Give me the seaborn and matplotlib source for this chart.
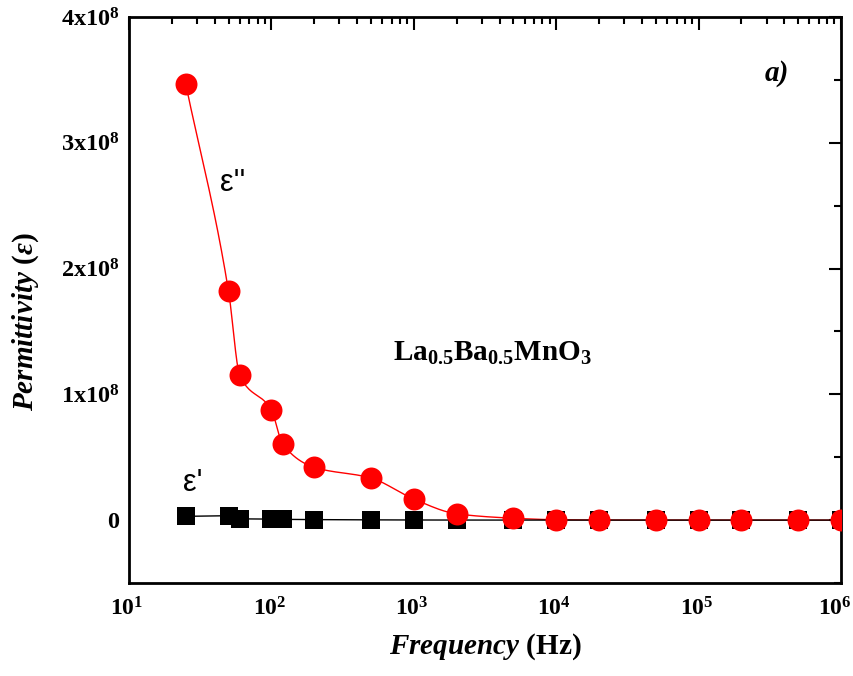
import numpy as np
import pandas as pd
import matplotlib
matplotlib.use("Agg")
import matplotlib.pyplot as plt
import matplotlib.transforms as mtrans
import seaborn as sns
from matplotlib.ticker import FixedLocator, LogLocator, NullFormatter, MultipleLocator

freq = [25, 50, 60, 100, 120, 200, 500, 1000, 2000, 5000, 1e4, 2e4, 5e4, 1e5, 2e5, 5e5, 1e6]
eps_imag = [3.47e8, 1.82e8, 1.15e8, 0.875e8, 0.605e8, 0.42e8, 0.335e8, 0.167e8, 0.05e8,
            0.015e8, 0.003e8, 0.001e8, 0.0005e8, 0.0002e8, 0.0001e8, 0.0, 0.0]
eps_real = [0.03e8, 0.035e8, 0.01e8, 0.008e8, 0.006e8, 0.004e8, 0.002e8, 0.001e8, 0.0005e8,
            0.0003e8, 0.0002e8, 0.0001e8, 0.0, 0.0, 0.0, 0.0, 0.0]
ytick_vals = [0, 1e8, 2e8, 3e8, 4e8]
ytick_labels = ["0", r"1x10$^{8}$", r"2x10$^{8}$", r"3x10$^{8}$", r"4x10$^{8}$"]
xtick_vals = [1e1, 1e2, 1e3, 1e4, 1e5, 1e6]
xtick_labels = [r"10$^{1}$", r"10$^{2}$", r"10$^{3}$", r"10$^{4}$", r"10$^{5}$", r"10$^{6}$"]

sns.set_style("white")
plt.rcParams["font.family"] = ["Liberation Serif", "DejaVu Serif"]
plt.rcParams["mathtext.fontset"] = "custom"
plt.rcParams["mathtext.rm"] = "Liberation Serif:bold"
plt.rcParams["mathtext.it"] = "Liberation Serif:bold:italic"
plt.rcParams["mathtext.bf"] = "Liberation Serif:bold"
plt.rcParams["text.color"] = "black"
plt.rcParams["axes.labelcolor"] = "black"
plt.rcParams["xtick.color"] = "black"
plt.rcParams["ytick.color"] = "black"

df = pd.DataFrame({"freq": freq, "imag": eps_imag, "real": eps_real})

fig = plt.figure(figsize=(8.54, 6.76), dpi=100)
ax = fig.add_axes([129/854, 1-583/676, (841-129)/854, (583-17)/676])

# smooth display curve through the red points: monotone cubic (Fritsch-Carlson) in log-x
lx = np.log10(df["freq"].values)
yv = df["imag"].values
h = np.diff(lx)
dl = np.diff(yv) / h
m = np.zeros_like(yv)
m[0], m[-1] = dl[0], dl[-1]
for i in range(1, len(yv) - 1):
    if dl[i-1] * dl[i] <= 0:
        m[i] = 0.0
    else:
        w1 = 2*h[i] + h[i-1]; w2 = h[i] + 2*h[i-1]
        m[i] = (w1 + w2) / (w1/dl[i-1] + w2/dl[i])
sx, sy = [], []
t = np.linspace(0, 1, 25)
h00 = 2*t**3 - 3*t**2 + 1; h10 = t**3 - 2*t**2 + t
h01 = -2*t**3 + 3*t**2; h11 = t**3 - t**2
for i in range(len(yv) - 1):
    s = h00*yv[i] + h10*h[i]*m[i] + h01*yv[i+1] + h11*h[i]*m[i+1]
    sx.extend(10**(lx[i] + t*h[i])); sy.extend(s)
ax.plot(sx, sy, color="red", lw=1.0, zorder=2)
sns.lineplot(data=df, x="freq", y="real", ax=ax, color="black", lw=1.0, zorder=2)

sns.scatterplot(data=df, x="freq", y="real", ax=ax, marker="s", s=150, color="black",
                edgecolor="black", linewidth=0, zorder=3)
sns.scatterplot(data=df, x="freq", y="imag", ax=ax, marker="o", s=250, color="red",
                edgecolor="red", linewidth=0, zorder=4)

ax.set_xscale("log")
ax.set_xlim(10, 1e6)
ax.set_ylim(-0.5e8, 4e8)
ax.xaxis.set_major_locator(FixedLocator(xtick_vals))
ax.set_xticklabels(xtick_labels)
ax.xaxis.set_minor_locator(LogLocator(base=10, subs=np.arange(2, 10)))
ax.xaxis.set_minor_formatter(NullFormatter())
ax.yaxis.set_major_locator(FixedLocator(ytick_vals))
ax.set_yticklabels(ytick_labels)
ax.yaxis.set_minor_locator(MultipleLocator(0.5e8))

for sp in ax.spines.values():
    sp.set_linewidth(2.0)
    sp.set_color("black")
ax.tick_params(which="both", direction="in", top=True, right=True, width=1.5, colors="black")
ax.tick_params(which="major", length=9, labelsize=17.5)
ax.tick_params(axis="x", which="major", labelsize=17, pad=10)
ax.tick_params(axis="y", which="major", pad=7)
ax.tick_params(which="minor", length=5)
xlabs = ax.get_xticklabels()
for i, lab in enumerate(xlabs):
    lab.set_fontweight("bold")
    dx = -6 if i == len(xlabs) - 1 else -2
    lab.set_transform(lab.get_transform() + mtrans.ScaledTranslation(dx/100, 0, fig.dpi_scale_trans))
for lab in ax.get_yticklabels():
    lab.set_fontweight("bold")

ax.set_xlabel(r"$\it{Frequency}$ (Hz)", fontsize=21, fontweight="bold", labelpad=8)
ax.set_ylabel(r"$\it{Permittivity}$ ($\varepsilon$)", fontsize=21, fontweight="bold")
ax.yaxis.set_label_coords(-0.123, 0.461)

ax.text(0.910, 0.901, "a)", transform=ax.transAxes, fontsize=21, fontweight="bold",
        style="italic", ha="center", va="center")
ax.text(0.51, 0.405, r"La$_{0.5}$Ba$_{0.5}$MnO$_{3}$", transform=ax.transAxes, fontsize=21,
        fontweight="bold", ha="center", va="center")
ax.text(0.145, 0.707, "\u03b5''", transform=ax.transAxes, fontsize=22,
        family=["Liberation Sans", "DejaVu Sans"], ha="center", va="center")
ax.text(0.09, 0.177, "\u03b5'", transform=ax.transAxes, fontsize=22,
        family=["Liberation Sans", "DejaVu Sans"], ha="center", va="center")

ax.grid(False)
fig.savefig("out.png", dpi=100)
